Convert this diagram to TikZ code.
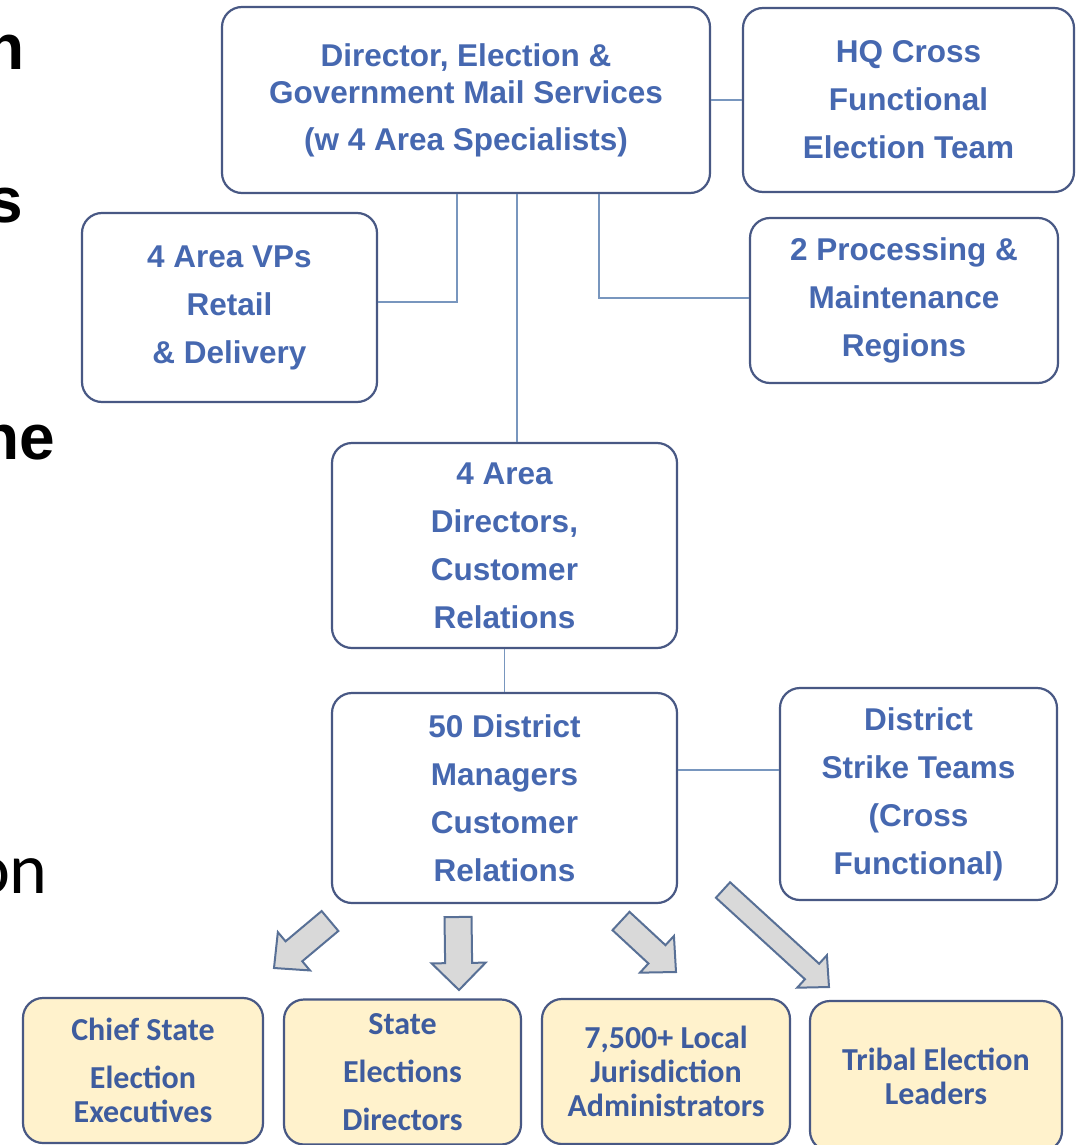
\documentclass[tikz,border=0pt]{standalone}
\usepackage{fontspec}
\setmainfont{Liberation Sans}
\newfontfamily\calib{Carlito}
\usetikzlibrary{calc}
\definecolor{txtc}{RGB}{70,104,176}
\definecolor{txtb}{RGB}{62,92,158}
\definecolor{bordc}{RGB}{72,88,132}
\definecolor{connc}{RGB}{120,150,190}
\definecolor{fillb}{RGB}{255,242,204}
\definecolor{arrf}{RGB}{217,217,217}
\definecolor{arrd}{RGB}{88,112,150}
\tikzset{
  box/.style={draw=bordc, line width=2.2pt, rounded corners=20pt, fill=white,
    text=txtc, font=\bfseries\fontsize{31.5}{48}\selectfont, align=center, inner sep=0pt},
  ybox/.style={box, fill=fillb, text=txtb, font=\calib\bfseries\fontsize{32}{34}\selectfont},
  conn/.style={draw=connc, line width=1.5pt},
  barrow/.style={draw=arrd, fill=arrf, line width=2pt, line join=miter},
  frag/.style={inner sep=0pt, text=black, font=\bfseries\fontsize{64}{70}\selectfont},
  fragr/.style={inner sep=0pt, text=black, font=\calib\fontsize{72}{80}\selectfont}
}
\newcommand\blockarr[5]{% tail, tip, shaft half width, head half width, head length
  \coordinate (hb) at ($(#2)!#5!(#1)$);
  \draw[barrow] ($(#1)!#3!90:(#2)$) -- ($(hb)!#3!90:(#2)$) -- ($(hb)!#4!90:(#2)$)
    -- (#2) -- ($(hb)!#4!-90:(#2)$) -- ($(hb)!#3!-90:(#2)$) -- ($(#1)!#3!-90:(#2)$) -- cycle;
}
\begin{document}
\begin{tikzpicture}[x=1pt,y=-1pt]
\useasboundingbox[fill=white] (0,0) rectangle (1076,1145);

% cropped slide text at the left edge
\node[frag, anchor=base east] (f1) at (25,70) {n};
\node[frag, anchor=base east] (f2) at (23,222) {s};
\node[frag, anchor=base east] (f3) at (55,459) {ne};
\node[fragr, anchor=base east] (f4) at (48,893) {on};

% junction coordinates
\coordinate (j1) at (457,302);
\coordinate (j2) at (599,298);
\coordinate (j3) at (517,0);
\coordinate (j4) at (0,770);

\node[box, minimum width=488pt, minimum height=186pt] (dir) at (466,100)
  {Director, Election \&\\[-11pt]Government Mail Services\\[-1pt](w 4 Area Specialists)};
\node[box, minimum width=331pt, minimum height=184pt] (hq) at (908.5,100)
  {HQ Cross\\Functional\\Election Team};
\node[box, minimum width=295pt, minimum height=189pt] (vps) at (229.5,307.5)
  {4 Area VPs\\Retail\\\& Delivery};
\node[box, minimum width=308pt, minimum height=165pt] (proc) at (904,300.5)
  {2 Processing \&\\Maintenance\\Regions};
\node[box, minimum width=345pt, minimum height=205pt] (adir) at (504.5,545.5)
  {4 Area\\Directors,\\Customer\\Relations};
\node[box, minimum width=345pt, minimum height=210pt] (dm) at (504.5,798)
  {50 District\\Managers\\Customer\\Relations};
\node[box, minimum width=277pt, minimum height=212pt] (strike) at (918.5,794)
  {District\\Strike Teams\\(Cross\\Functional)};

\draw[conn] (dir.east) -- (hq.west);
\draw[conn] (dir.south -| j1) -- (j1) -- (vps.east |- j1);
\draw[conn] (dir.south -| j2) -- (j2) -- (proc.west |- j2);
\draw[conn] (dir.south -| j3) -- (adir.north -| j3);
\draw[conn] (adir.south) -- (dm.north);
\draw[conn] (dm.east |- j4) -- (strike.west |- j4);

% bottom boxes
\node[ybox, minimum width=240pt, minimum height=145pt] (b1) at (143,1070.5)
  {Chief State\\[14pt]Election\\Executives};
\node[ybox, minimum width=237pt, minimum height=145pt] (b2) at (402.5,1072)
  {State\\[14pt]Elections\\[14pt]Directors};
\node[ybox, minimum width=248pt, minimum height=145pt] (b3) at (666,1071.5)
  {7,500+ Local\\Jurisdiction\\Administrators};
\node[ybox, minimum width=252pt, minimum height=150pt] (b4) at (936,1076)
  {Tribal Election\\Leaders};

% block arrows
\coordinate (a1t) at (330,921); \coordinate (a1h) at (274,968);
\coordinate (a2t) at (458,917); \coordinate (a2h) at (459,990);
\coordinate (a3t) at (621,921); \coordinate (a3h) at (676,972);
\coordinate (a4t) at (723,890); \coordinate (a4h) at (829,987);
\blockarr{a1t}{a1h}{13pt}{25pt}{26pt}
\blockarr{a2t}{a2h}{13.5pt}{27pt}{27pt}
\blockarr{a3t}{a3h}{12.5pt}{25pt}{26pt}
\blockarr{a4t}{a4h}{10.5pt}{22pt}{23pt}
\end{tikzpicture}
\end{document}
